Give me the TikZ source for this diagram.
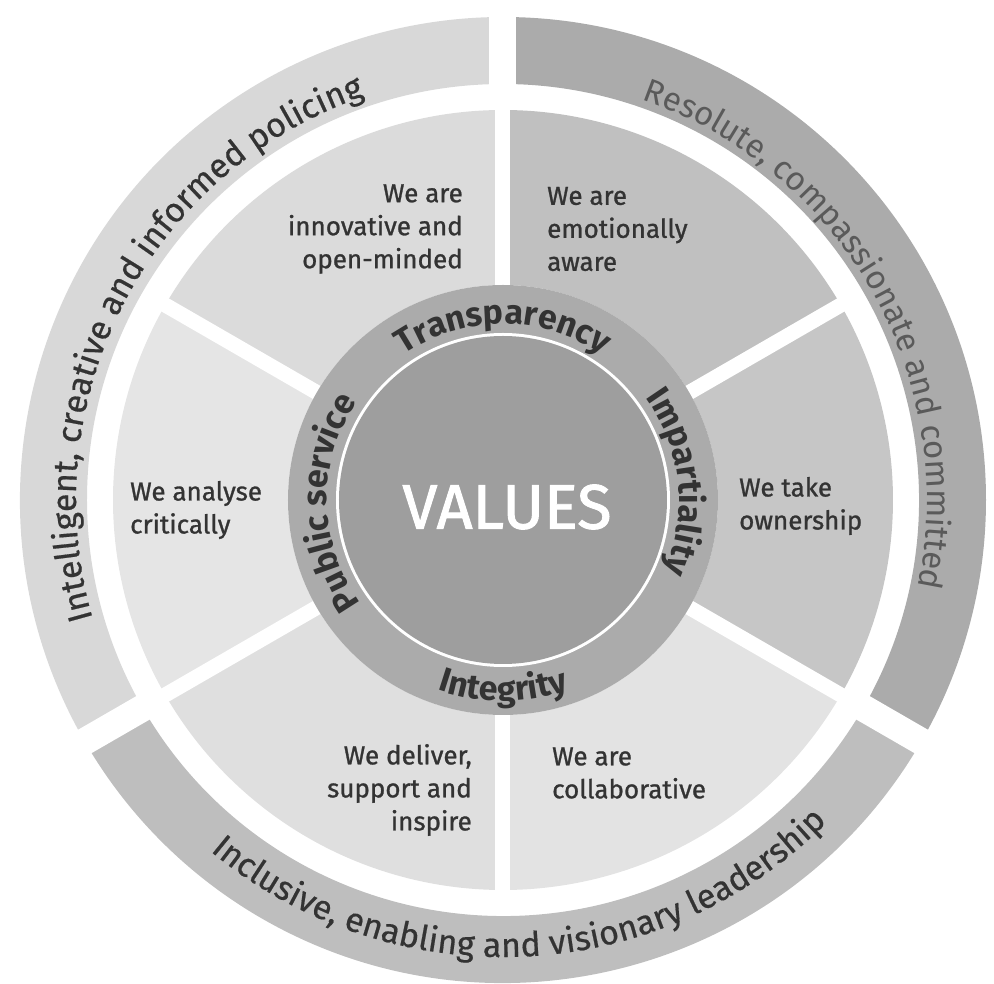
\documentclass[tikz,border=0pt]{standalone}
\usepackage{fontspec}
\setmainfont{Fira Sans}
\usetikzlibrary{decorations.text}

\definecolor{coregray}{HTML}{9E9E9E}
\definecolor{ringgray}{HTML}{ABABAB}
\definecolor{bandleft}{HTML}{D8D8D8}
\definecolor{bandright}{HTML}{ABABAB}
\definecolor{bandbottom}{HTML}{BEBEBE}
\definecolor{secA}{HTML}{C0C0C0}
\definecolor{secB}{HTML}{DBDBDB}
\definecolor{secC}{HTML}{E5E5E5}
\definecolor{secD}{HTML}{DFDFDF}
\definecolor{secE}{HTML}{E3E3E3}
\definecolor{secF}{HTML}{C6C6C6}
\definecolor{inktext}{HTML}{333333}
\definecolor{softtext}{HTML}{5A5A5A}

\newcommand\ringfont{\fontsize{34}{40}\selectfont\bfseries\color{inktext}}
\newcommand\bandfont{\fontsize{34}{40}\selectfont\addfontfeatures{FakeBold=0.5}\color{inktext}}
\newcommand\softbandfont{\fontsize{33}{40}\selectfont\color{softtext}}

\tikzset{
  sectortext/.style={font=\fontsize{26}{33}\selectfont\addfontfeatures{FakeBold=1}, text=inktext, inner sep=0pt},
  arctext/.style={decorate, decoration={text along path, text align=center, text={#1}}},
}

\begin{document}
\begin{tikzpicture}[x=1pt,y=1pt]
    \useasboundingbox (-503,-484) rectangle (491,500);
    % outer band, three pieces
    \foreach \a/\col in {90/bandleft, 210/bandbottom, 330/bandright}
        \fill[\col] (\a:416) arc[start angle=\a, end angle=\a+120, radius=416]%
        -- ({\a+120}:483) arc[start angle=\a+120, end angle=\a, radius=483] -- cycle;
    % six sectors
    \foreach \a/\col in {30/secA, 90/secB, 150/secC, 210/secD, 270/secE, 330/secF}
        \fill[\col] (\a:215) arc[start angle=\a, end angle=\a+60, radius=215]%
        -- ({\a+60}:390) arc[start angle=\a+60, end angle=\a, radius=390] -- cycle;
    \foreach \a in {30,90,...,330}
        \draw[white, line width=15pt] (\a:215) -- (\a:395);
    \foreach \a in {90,210,330}
        \draw[white, line width=27pt] (\a:400) -- (\a:490);
    % values ring and core
    \fill[ringgray] (0,0) circle (215);
    \fill[white] (0,0) circle (167);
    \fill[coregray] (0,0) circle (164);
    \node[font=\fontsize{63}{63}\selectfont\addfontfeatures{FakeBold=1.5}, text=white] (values) at (4,-7) {VALUES};
    \path[arctext={|\ringfont|Transparency}] (150:176) arc[start angle=150, end angle=30, radius=176];
    \path[arctext={|\ringfont|Impartiality}] (66:176) arc[start angle=66, end angle=-54, radius=176];
    \path[arctext={|\ringfont|Public service}] (241:176) arc[start angle=241, end angle=121, radius=176];
    \path[arctext={|\ringfont|Integrity}] (210:201) arc[start angle=210, end angle=330, radius=201];
    % sector texts
    \node[sectortext, anchor=east, align=right] (innov) at (-40,271) {We are\\innovative and\\open-minded};
    \node[sectortext, anchor=west, align=left] (emot) at (44,271) {We are\\emotionally\\aware};
    \node[sectortext, anchor=west, align=left] (owner) at (236,-6) {We take\\ownership};
    \node[sectortext, anchor=west, align=left] (analyse) at (-373,-10) {We analyse\\critically};
    \node[sectortext, anchor=east, align=right] (deliver) at (-31,-290) {We deliver,\\support and\\inspire};
    \node[sectortext, anchor=west, align=left] (collab) at (49,-273) {We are\\collaborative};
    % band texts
    \path[arctext={|\bandfont|Intelligent, creative and informed policing}] (212.5:427) arc[start angle=212.5, end angle=92.5, radius=427];
    \path[arctext={|\softbandfont|Resolute, compassionate and committed}] (89.5:424) arc[start angle=89.5, end angle=-30.5, radius=424];
    \path[arctext={|\bandfont|Inclusive, enabling and visionary leadership}] (212.7:457) arc[start angle=212.7, end angle=332.7, radius=457];
\end{tikzpicture}
\end{document}
